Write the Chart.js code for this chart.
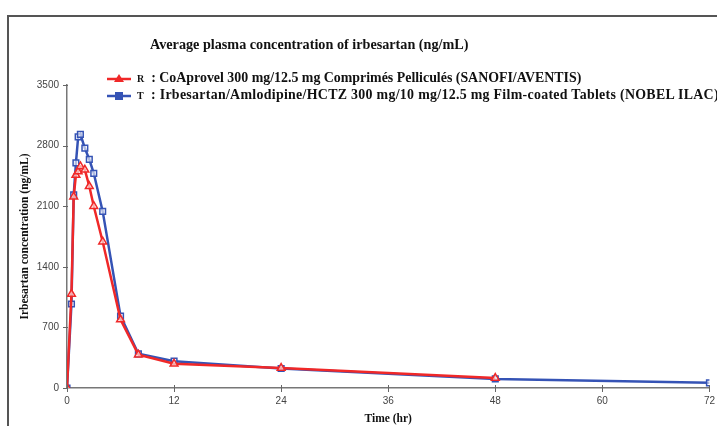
<!DOCTYPE html>
<html>
<head>
<meta charset="utf-8">
<script src="https://cdn.jsdelivr.net/npm/chart.js@4.4.0/dist/chart.umd.min.js"></script>
<style>
    body { margin: 0; background: #fff; }
    #wrap { position: relative; width: 717px; height: 426px; overflow: hidden; }
    #frame { position: absolute; left: 7px; top: 15px; right: -5px; bottom: -5px; border-left: 2px solid #555; border-top: 2px solid #555; }
    #title { position: absolute; left: 150px; top: 36px; font: bold 14.2px "Liberation Serif", serif; color: #111; white-space: nowrap; }
    .leg { position: absolute; left: 106px; font: bold 13.9px "Liberation Serif", serif; color: #111; white-space: nowrap; }
    .leg canvas { vertical-align: middle; margin-right: 5px; }
    .leg .code { font-size: 10px; margin-right: 7px; }
</style>
</head>
<body>
<div id="wrap">
    <canvas id="chart" width="717" height="426"></canvas>
    <div id="frame"></div>
    <div id="title">Average plasma concentration of irbesartan (ng/mL)</div>
    <div class="leg" style="top:70px"><canvas id="mkR" width="26" height="12"></canvas><span class="code">R</span>: CoAprovel 300 mg/12.5 mg Comprimés Pelliculés (SANOFI/AVENTIS)</div>
    <div class="leg" style="top:87px; letter-spacing:0.3px"><canvas id="mkT" width="26" height="12"></canvas><span class="code">T</span>: Irbesartan/Amlodipine/HCTZ 300 mg/10 mg/12.5 mg Film-coated Tablets (NOBEL ILAC)</div>
</div>
<script>
const times = [0, 0.5, 0.75, 1, 1.25, 1.5, 2, 2.5, 3, 4, 6, 8, 12, 24, 48, 72];
const refValues = [0, 1085, 2210, 2460, 2500, 2560, 2520, 2330, 2100, 1690, 790, 385, 280, 230, 115, null];
const testValues = [0, 970, 2230, 2600, 2900, 2930, 2770, 2640, 2480, 2040, 830, 395, 310, 225, 105, 60];
const yTicks = [0, 700, 1400, 2100, 2800, 3500];
const xTicks = [0, 12, 24, 36, 48, 60, 72];

const red = "#f02828";
const blue = "#3553b5";

function toPoints(vals) {
    return times.map((t, i) => ({ x: t, y: vals[i] }));
}

// little legend markers
function marker(id, color, style) {
    const c = document.getElementById(id).getContext("2d");
    c.strokeStyle = color;
    c.fillStyle = color;
    c.lineWidth = 2.5;
    c.beginPath(); c.moveTo(1, 6); c.lineTo(25, 6); c.stroke();
    c.beginPath();
    if (style === "triangle") { c.moveTo(13, 1); c.lineTo(18, 9); c.lineTo(8, 9); c.closePath(); }
    else { c.rect(9, 2, 8, 8); }
    c.fill();
}
marker("mkR", red, "triangle");
marker("mkT", blue, "rect");

new Chart(document.getElementById("chart"), {
    type: "line",
    data: {
        datasets: [{
            label: "R",
            data: toPoints(refValues),
            borderColor: red,
            borderWidth: 2.5,
            pointStyle: "triangle",
            pointRadius: 4.5,
            pointBorderWidth: 1.5,
            pointBorderColor: red,
            pointBackgroundColor: "rgba(255,255,255,0.6)",
            tension: 0
        }, {
            label: "T",
            data: toPoints(testValues),
            borderColor: blue,
            borderWidth: 2.5,
            pointStyle: "rect",
            pointRadius: 4,
            pointBorderWidth: 1.5,
            pointBorderColor: blue,
            pointBackgroundColor: "rgba(255,255,255,0.6)",
            tension: 0
        }]
    },
    options: {
        responsive: false,
        animation: false,
        layout: { padding: { top: 85, left: 0, right: 0, bottom: 0 } },
        plugins: { legend: { display: false }, tooltip: { enabled: false } },
        scales: {
            x: {
                type: "linear",
                min: 0,
                max: 72,
                afterBuildTicks: s => { s.ticks = xTicks.map(v => ({ value: v })); },
                afterFit: s => { s.height = 38; },
                grid: { display: false, tickLength: 5 },
                border: { color: "#777", width: 1.5 },
                ticks: { color: "#444", font: { family: "Liberation Sans", size: 10 }, padding: 2, maxRotation: 0, callback: v => String(v) },
                title: { display: true, text: "Time (hr)", color: "#111", font: { family: "Liberation Serif", size: 11.5, weight: "bold" }, padding: { top: 2, bottom: 0 } }
            },
            y: {
                min: 0,
                max: 3500,
                afterBuildTicks: s => { s.ticks = yTicks.map(v => ({ value: v })); },
                afterFit: s => { s.width = 67; },
                grid: { display: false, tickLength: 5 },
                border: { color: "#777", width: 1.5 },
                ticks: { color: "#444", font: { family: "Liberation Sans", size: 10 }, padding: 3, callback: v => String(v) },
                title: { display: true, text: "Irbesartan concentration (ng/mL)", color: "#111", font: { family: "Liberation Serif", size: 11.5, weight: "bold" }, padding: { top: 18, bottom: 0 } }
            }
        }
    },
    plugins: [{
        // short tick marks on the axes (grid is off)
        id: "tickMarks",
        afterDraw(chart) {
            const { ctx, scales: { x, y } } = chart;
            ctx.save();
            ctx.strokeStyle = "#666";
            ctx.lineWidth = 1;
            xTicks.forEach(v => {
                const px = Math.round(x.getPixelForValue(v)) + 0.5;
                ctx.beginPath(); ctx.moveTo(px, y.bottom - 3); ctx.lineTo(px, y.bottom + 4); ctx.stroke();
            });
            yTicks.forEach(v => {
                const py = Math.round(y.getPixelForValue(v)) + 0.5;
                ctx.beginPath(); ctx.moveTo(x.left - 4, py); ctx.lineTo(x.left + 1, py); ctx.stroke();
            });
            ctx.restore();
        }
    }]
});
</script>
</body>
</html>
